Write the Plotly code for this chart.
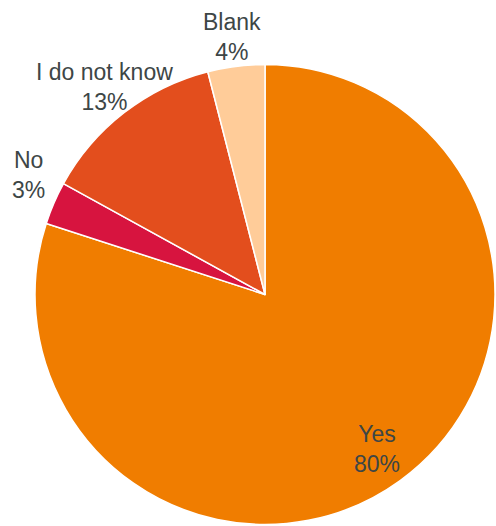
import math
import plotly.graph_objects as go

labels = ["Yes", "No", "I do not know", "Blank"]
values = [80, 3, 13, 4]
colors = ["#F07D00", "#D7143F", "#E34E1D", "#FFCC99"]
# radial distance of each label centre, as a fraction of the pie radius
label_radius = [0.83, 1.15, 1.14, 1.13]
# small pixel nudges (x right, y up) applied to each label
label_shift = [(0, 0), (6, 14), (0, 0), (0, 0)]

W, H = 496, 526
cx, cy, R = 265, 294.5, 230  # pie centre and radius in pixels

fig = go.Figure(go.Pie(
    labels=labels,
    values=values,
    sort=False,
    direction="clockwise",
    rotation=0,
    marker=dict(colors=colors, line=dict(color="white", width=1.5)),
    textinfo="none",
    domain=dict(x=[(cx - R) / W, (cx + R) / W], y=[(H - cy - R) / H, (H - cy + R) / H]),
    showlegend=False,
    hoverinfo="label+percent",
))

total = sum(values)
cum = 0
annotations = []
for lab, v, rf, (sx, sy) in zip(labels, values, label_radius, label_shift):
    mid = (cum + v / 2) / total * 2 * math.pi
    cum += v
    px = cx + rf * R * math.sin(mid)
    py = cy - rf * R * math.cos(mid)
    pct = round(100 * v / total)
    annotations.append(dict(
        x=px / W, y=1 - py / H, xref="paper", yref="paper",
        xshift=sx, yshift=sy,
        text=f"{lab}<br>{pct}%", showarrow=False,
        xanchor="center", yanchor="middle", align="center",
        font=dict(family="Liberation Sans, Arial, sans-serif", size=23, color="#3d4646"),
    ))

fig.update_layout(
    width=W, height=H,
    margin=dict(l=0, r=0, t=0, b=0),
    paper_bgcolor="white",
    plot_bgcolor="white",
    annotations=annotations,
)

fig.write_html("out.html")
